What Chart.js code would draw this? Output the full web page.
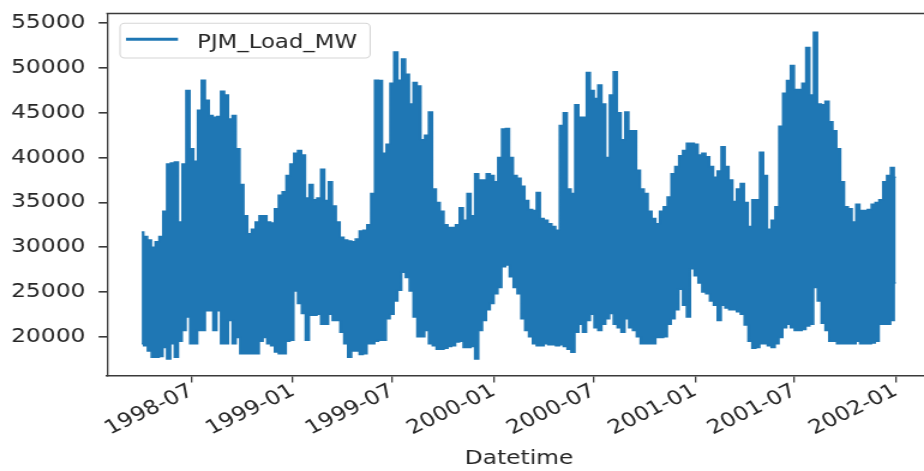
<!DOCTYPE html>
<html>
<head>
<meta charset="utf-8">
<script src="https://cdn.jsdelivr.net/npm/chart.js@4.4.1/dist/chart.umd.min.js"></script>
<style>
  html, body { margin: 0; padding: 0; background: #fff; overflow: hidden; width: 924px; height: 471px; }
  /* the figure is drawn narrow and widened, so text and marks share the same horizontal stretch */
  #wrap { position: absolute; left: 0; top: 0; width: 784px; height: 471px; transform: scaleX(1.2); transform-origin: 0 0; }
</style>
</head>
<body>
<div id="wrap"><canvas id="c"></canvas></div>
<script>
// Hourly PJM load, summarised per week: highest and lowest hourly reading of each week.
const seriesName = 'PJM_Load_MW';
const firstWeek = '1998-04-01';   // week 0 starts here, one entry per 7 days
const lastReading = '2002-01-01'; // final entry of each array

const weeklyPeak = [
  31700, 31200, 30800, 30000, 30600, 31200, 34000, 39300, 39400, 39500,
  32800, 39300, 47500, 41000, 39600, 45300, 48650, 46400, 44700, 44500,
  44600, 47400, 47000, 44300, 44700, 41000, 37000, 33500, 31500, 32000,
  32800, 33500, 33500, 32800, 32700, 34300, 35800, 36200, 38000, 39300,
  40500, 40800, 40300, 35500, 37000, 35300, 35500, 38700, 35200, 37300,
  34600, 32800, 31100, 30800, 30700, 30600, 30900, 31800, 31900, 32500,
  36000, 48650, 48600, 40500, 41500, 48300, 51800, 48650, 51000, 49300,
  46000, 48400, 48000, 42000, 42500, 45100, 36500, 35000, 34000, 32500,
  32200, 32200, 32500, 34400, 33000, 36000, 33500, 38200, 37500, 37500,
  38200, 38000, 37300, 40000, 43200, 43250, 40000, 38000, 37700, 36800,
  35200, 34200, 34100, 36100, 33200, 33000, 32600, 32300, 31900, 43600,
  45000, 36500, 36000, 45900, 44500, 44500, 49500, 47500, 46600, 48100,
  46000, 40000, 47000, 49580, 45000, 42000, 45100, 43000, 43000, 38600,
  36500, 36000, 34000, 33200, 32600, 34000, 34500, 35600, 38200, 39000,
  40200, 40800, 41600, 41600, 41500, 40300, 40500, 40100, 39000, 37800,
  38500, 41200, 39000, 37500, 35100, 36500, 37100, 35000, 32300, 35300,
  35300, 40600, 38000, 32000, 33000, 34500, 43500, 47200, 48600, 50300,
  47600, 47600, 48300, 52300, 47000, 54000, 46000, 45900, 46300, 44000,
  43000, 41000, 37300, 34500, 34300, 32800, 34800, 34100, 34100, 34200,
  34800, 35000, 35300, 37300, 38000, 38900,
  37800
];

const weeklyLow = [
  19200, 19000, 18400, 17700, 17700, 17800, 18800, 17500, 19200, 17700,
  19500, 20700, 22200, 19200, 19200, 20700, 20700, 22900, 22900, 20700,
  22900, 19200, 19200, 21800, 19200, 19900, 18100, 18100, 18100, 18100,
  18100, 19500, 19900, 19200, 19000, 18300, 18100, 18100, 19500, 19600,
  25100, 23700, 22600, 19600, 22400, 22400, 22500, 21400, 21400, 22500,
  21800, 21800, 20500, 19200, 17700, 18400, 18400, 18000, 18100, 19200,
  19200, 19500, 19600, 19600, 22000, 22500, 24000, 25200, 27200, 26600,
  25100, 22200, 20000, 20000, 20700, 19200, 19000, 18600, 18600, 18700,
  18900, 19000, 19400, 19500, 18800, 18800, 18900, 17500, 20700, 21800,
  23000, 23700, 24800, 25500, 27800, 28000, 26700, 25500, 24800, 22000,
  20700, 20000, 19200, 19000, 19000, 19200, 19100, 19100, 19000, 19100,
  18900, 18600, 18250, 20500, 21400, 20500, 21800, 22500, 21000, 20700,
  21400, 22000, 22600, 21400, 21000, 20500, 22000, 21000, 20700, 20000,
  19200, 19200, 19200, 19200, 19900, 19900, 20000, 21400, 22000, 23000,
  25300, 23500, 22200, 27600, 26800, 26000, 25000, 24800, 24000, 23500,
  21800, 23500, 23200, 23000, 23000, 22800, 22500, 21300, 19500, 18700,
  18800, 19200, 19200, 19000, 18800, 19200, 19900, 21000, 21400, 21000,
  20700, 20700, 20800, 21200, 21400, 25500, 24000, 21500, 20700, 19500,
  19500, 19200, 19200, 19200, 19200, 19200, 19500, 19200, 19200, 19200,
  19300, 19500, 21400, 21400, 21400, 21800,
  26000
];

const xTickLabels = ['1998-07', '1999-01', '1999-07', '2000-01', '2000-07', '2001-01', '2001-07', '2002-01'];
const yTickValues = [20000, 25000, 30000, 35000, 40000, 45000, 50000, 55000];

const BLUE = '#1f77b4';
const TEXT = '#262626';
const FRAME = '#3a3a3a';
const FONT = '"DejaVu Sans", "Liberation Sans", sans-serif';

const DAY_MS = 86400000;
const dayNum = s => Date.UTC(+s.slice(0, 4), +s.slice(5, 7) - 1, s.length > 7 ? +s.slice(8, 10) : 1) / DAY_MS;

const startDay = dayNum(firstWeek);
const sampleDays = weeklyPeak.map((_, i) => i < weeklyPeak.length - 1 ? startDay + 7 * i : dayNum(lastReading));
const tickDays = xTickLabels.map(dayNum);

// closes the axes box on the top and right, then draws the legend in the upper-left corner
const frameAndLegend = {
  id: 'frameAndLegend',
  afterDraw(chart) {
    const { ctx, chartArea: a } = chart;
    ctx.save();
    ctx.strokeStyle = FRAME;
    ctx.lineWidth = 1.6;
    ctx.beginPath(); ctx.moveTo(a.left - 0.6, a.top); ctx.lineTo(a.right, a.top); ctx.stroke();
    ctx.lineWidth = 1.33;
    ctx.beginPath(); ctx.moveTo(a.right, a.top); ctx.lineTo(a.right, a.bottom); ctx.stroke();

    const ds = chart.data.datasets[0];
    ctx.font = '19px ' + FONT;
    const tw = ctx.measureText(ds.label).width;
    const x0 = a.left + 10.8, y0 = a.top + 9.8, h = 34.7, w = 64.2 + tw + 11;
    const r = 4;
    ctx.beginPath();
    ctx.moveTo(x0 + r, y0);
    ctx.arcTo(x0 + w, y0, x0 + w, y0 + h, r);
    ctx.arcTo(x0 + w, y0 + h, x0, y0 + h, r);
    ctx.arcTo(x0, y0 + h, x0, y0, r);
    ctx.arcTo(x0, y0, x0 + w, y0, r);
    ctx.closePath();
    ctx.fillStyle = 'rgba(255,255,255,0.8)';
    ctx.fill();
    ctx.strokeStyle = '#d6d6d6';
    ctx.lineWidth = 1.1;
    ctx.stroke();
    ctx.strokeStyle = ds.borderColor;
    ctx.lineWidth = 3;
    ctx.beginPath();
    ctx.moveTo(x0 + 5, y0 + 16);
    ctx.lineTo(x0 + 48.3, y0 + 16);
    ctx.stroke();
    ctx.fillStyle = TEXT;
    ctx.textBaseline = 'alphabetic';
    ctx.textAlign = 'left';
    ctx.fillText(ds.label, x0 + 64.2, y0 + 24.5);
    ctx.restore();
  }
};

new Chart(document.getElementById('c'), {
  type: 'line',
  data: {
    datasets: [
      {
        label: seriesName,
        data: sampleDays.map((d, i) => ({ x: d, y: weeklyPeak[i] })),
        borderColor: BLUE,
        borderWidth: 1.5,
        pointRadius: 0,
        stepped: 'middle',
        fill: false
      },
      {
        label: seriesName,
        data: sampleDays.map((d, i) => ({ x: d, y: weeklyLow[i] })),
        borderColor: BLUE,
        backgroundColor: BLUE,
        borderWidth: 1.5,
        pointRadius: 0,
        stepped: 'middle',
        fill: '-1'
      }
    ]
  },
  options: {
    responsive: true,
    maintainAspectRatio: false,
    animation: false,
    devicePixelRatio: 1,
    layout: { padding: { left: 0, right: 8.2, top: 13.5, bottom: 0 } },
    plugins: { legend: { display: false }, tooltip: { enabled: false } },
    scales: {
      x: {
        type: 'linear',
        min: dayNum('1998-07-01') - 154,
        max: dayNum('2002-01-01') + 64,
        afterBuildTicks: s => { s.ticks = tickDays.map(v => ({ value: v })); },
        afterFit: s => {
          s.height = 95.5;
          s.paddingLeft = 0; s.paddingRight = 0; s.paddingTop = 0; s.paddingBottom = 0;
        },
        ticks: {
          autoSkip: false,
          minRotation: 30,
          maxRotation: 30,
          padding: -3,
          color: TEXT,
          font: { family: FONT, size: 19.5 },
          callback: v => xTickLabels[tickDays.indexOf(v)]
        },
        grid: { drawOnChartArea: false, drawTicks: true, tickLength: 7, color: FRAME, lineWidth: 1.3 },
        border: { display: true, color: FRAME, width: 1.6 },
        title: {
          display: true,
          text: 'Datetime',
          color: TEXT,
          font: { family: FONT, size: 19.5 },
          padding: { top: 0, bottom: 0 }
        }
      },
      y: {
        type: 'linear',
        min: 15667,
        max: 56094,
        afterBuildTicks: s => { s.ticks = yTickValues.map(v => ({ value: v })); },
        afterFit: s => {
          s.width = 89.2;
          s.paddingLeft = 0; s.paddingRight = 0; s.paddingTop = 0; s.paddingBottom = 0;
        },
        ticks: {
          padding: 11,
          color: TEXT,
          font: { family: FONT, size: 19.5 },
          callback: v => String(v)
        },
        grid: { drawOnChartArea: false, drawTicks: true, tickLength: 7, color: FRAME, lineWidth: 1.6 },
        border: { display: true, color: FRAME, width: 1.33 }
      }
    }
  },
  plugins: [frameAndLegend]
});
</script>
</body>
</html>
